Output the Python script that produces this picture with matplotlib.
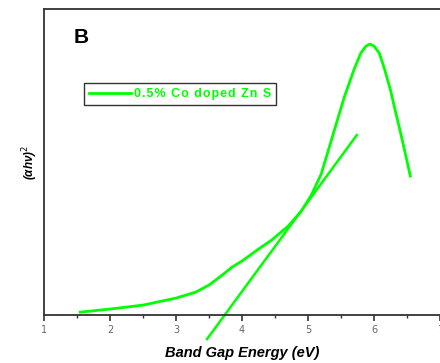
import matplotlib
matplotlib.use("Agg")
import matplotlib.pyplot as plt
from matplotlib.ticker import MultipleLocator

# Tauc plot (arbitrary y units)
energy = [1.55, 2.0, 2.5, 3.0, 3.3, 3.5, 3.7, 3.85, 4.0, 4.25, 4.45, 4.7,
          4.9, 5.05, 5.2, 5.4, 5.55, 5.7, 5.8, 5.88, 5.94, 6.0, 6.08, 6.16,
          6.25, 6.32, 6.4, 6.48, 6.55]
signal = [3, 6, 10, 17, 23, 30, 40, 48, 54, 66, 75, 89,
          104, 120, 141, 185, 218, 246, 262, 269, 271, 269, 262, 246,
          225, 205, 183, 160, 139]

# linear fit drawn on the edge
fit_energy = [3.47, 5.74]
fit_signal = [-24, 180]

series_label = "0.5% Co doped Zn S"
green = "#00ff00"
spine_col = "#333333"

fig = plt.figure(figsize=(4.4, 3.63), dpi=100)
ax = fig.add_axes([0.1, 0.132, 0.9, 0.843])

# legend text in the original is letter-spaced; hair spaces mimic that
spaced_label = "\u200a".join(series_label)
ax.plot(energy, signal, color=green, lw=2.0, label=spaced_label)
ax.plot(fit_energy, fit_signal, color=green, lw=1.8, clip_on=False)

ax.set_xlim(1, 7)
ax.set_ylim(0, 306)
ax.xaxis.set_major_locator(MultipleLocator(1))
ax.xaxis.set_minor_locator(MultipleLocator(0.5))
ax.set_yticks([])
ax.tick_params(axis="x", which="major", direction="out", length=4, width=1.2,
               color=spine_col, labelsize=7, labelcolor="#666666", pad=3)
ax.tick_params(axis="x", which="minor", direction="out", length=2.5, width=1.0,
               color=spine_col)

for side in ["left", "bottom", "top"]:
    ax.spines[side].set_color(spine_col)
    ax.spines[side].set_linewidth(1.3)
ax.spines["right"].set_visible(False)

ax.set_xlabel("Band Gap Energy (eV)", fontsize=10.5, fontweight="bold",
              style="italic", family="Liberation Sans", labelpad=8)
ax.set_ylabel("(αhν)$^2$", fontsize=8.5, fontweight="bold", style="italic",
              family="Liberation Sans", labelpad=3)

ax.text(0.076, 0.89, "B", transform=ax.transAxes, fontsize=15,
        fontweight="bold", family="Liberation Sans", color="black")

leg = ax.legend(loc="upper left", bbox_to_anchor=(0.1, 0.758), frameon=True,
                fancybox=False, edgecolor="black", handlelength=3.4,
                borderpad=0.4, handletextpad=0.2, borderaxespad=0,
                prop={"family": ["Liberation Sans", "DejaVu Sans"],
                      "weight": "bold", "size": 9})
leg.get_frame().set_linewidth(1.0)
for t in leg.get_texts():
    t.set_color(green)

fig.savefig("out.png", dpi=100)
